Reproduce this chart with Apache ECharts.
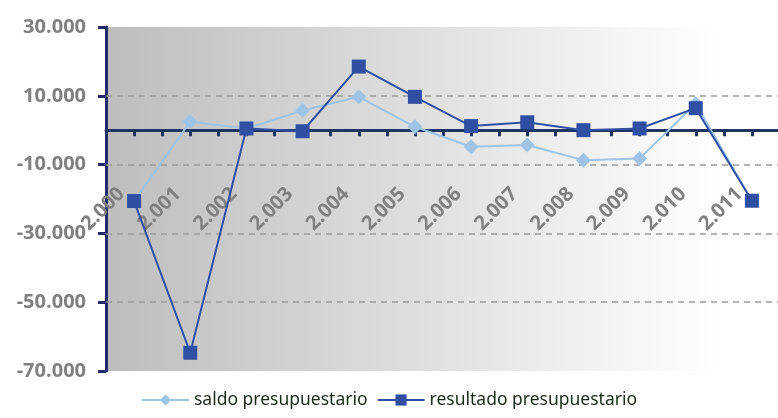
<!DOCTYPE html>
<html>
<head>
<meta charset="utf-8">
<script src="https://cdn.jsdelivr.net/npm/echarts@6/dist/echarts.min.js"></script>
<style>
  html, body { margin: 0; padding: 0; background: #fff; }
  #chart { width: 778px; height: 418px; }
</style>
</head>
<body>
<div id="chart"></div>
<script>
// Years (labels as printed on the chart)
const years = ['2.000', '2.001', '2.002', '2.003', '2.004', '2.005', '2.006', '2.007', '2.008', '2.009', '2.010', '2.011']

// Series values
const saldo = [-20600, 2500, 500, 5700, 9700, 1000, -4800, -4300, -8700, -8200, 7700, -20500]
const resultado = [-20600, -64700, 500, -300, 18500, 9700, 1200, 2300, 0, 500, 6400, -20500]

// Value axis ticks
const yTicks = [-70000, -50000, -30000, -10000, 10000, 30000]
const gridLines = [-50000, -30000, -10000, 10000]
const yMin = -70000
const yMax = 30000

const navy = '#262a6b'
const zeroNavy = '#1f3461'
const labelGray = '#808080'

const gridTop = 27
const gridBottom = 47
const plotHeight = 418 - gridTop - gridBottom
// move the category axis up to the zero line
const zeroOffset = -plotHeight * (0 - yMin) / (yMax - yMin)

const fmt = v => (v < 0 ? '-' : '') + Math.abs(v / 1000) + '.000'

const chart = echarts.init(document.getElementById('chart'))

const catAxis = {
  type: 'category',
  data: years,
  boundaryGap: true,
  position: 'bottom',
  offset: zeroOffset,
  z: 5,
  splitLine: { show: false }
}

chart.setOption({
  animation: false,
  grid: {
    left: 106,
    right: -2,
    top: gridTop,
    bottom: gridBottom,
    outerBoundsMode: 'none',
    containLabel: false,
    show: true,
    borderWidth: 0,
    backgroundColor: new echarts.graphic.LinearGradient(0, 0, 1, 0, [
      { offset: 0, color: '#bdbdbd' },
      { offset: 0.91, color: '#ffffff' },
      { offset: 1, color: '#ffffff' }
    ])
  },
  legend: {
    bottom: 4,
    left: 'center',
    itemWidth: 47,
    itemHeight: 14,
    itemGap: 9,
    textStyle: { fontFamily: 'Noto Sans', fontSize: 17.5, color: '#1c2b1c' },
    data: ['saldo presupuestario', 'resultado presupuestario']
  },
  xAxis: [Object.assign({}, catAxis, {
    axisLine: { show: true, onZero: false, lineStyle: { color: zeroNavy, width: 3 } },
    axisTick: { show: true, inside: false, alignWithLabel: true, interval: 0, length: 6, lineStyle: { color: zeroNavy, width: 3 } },
    axisLabel: {
      rotate: 45,
      interval: 0,
      margin: 48,
      padding: [0, 18, 0, 0],
      color: labelGray,
      fontFamily: 'Open Sans',
      fontWeight: 'bold',
      fontSize: 20
    }
  }), Object.assign({}, catAxis, {
    axisLine: { onZero: false, show: false },
    axisTick: { show: true, inside: false, interval: 0, length: 6, lineStyle: { color: zeroNavy, width: 3 } },
    axisLabel: { show: false }
  })],
  yAxis: {
    type: 'value',
    min: yMin,
    max: yMax,
    axisLine: { show: true, onZero: false, lineStyle: { color: navy, width: 3 } },
    axisTick: { show: true, length: 8, customValues: yTicks, lineStyle: { color: navy, width: 3 } },
    axisLabel: {
      customValues: yTicks,
      formatter: fmt,
      margin: 20,
      color: labelGray,
      fontFamily: 'Open Sans',
      fontWeight: 'bold',
      fontSize: 20
    },
    splitLine: { show: false }
  },
  series: [{
    name: 'saldo presupuestario',
    type: 'line',
    data: saldo,
    symbol: 'diamond',
    symbolSize: 15,
    color: '#9dc3e6',
    lineStyle: { color: '#9dc3e6', width: 2 },
    itemStyle: { color: '#9dc3e6' },
    z: 6,
    markLine: {
      silent: true,
      symbol: 'none',
      label: { show: false },
      lineStyle: { color: '#9a9a9a', type: [6, 5], width: 1.5 },
      data: gridLines.map(v => ({ yAxis: v }))
    }
  }, {
    name: 'resultado presupuestario',
    type: 'line',
    data: resultado,
    symbol: 'rect',
    symbolSize: 14,
    color: '#2f4fa3',
    lineStyle: { color: '#2f4fa3', width: 2 },
    itemStyle: { color: '#2f4fa3' },
    z: 7
  }]
})
</script>
</body>
</html>
